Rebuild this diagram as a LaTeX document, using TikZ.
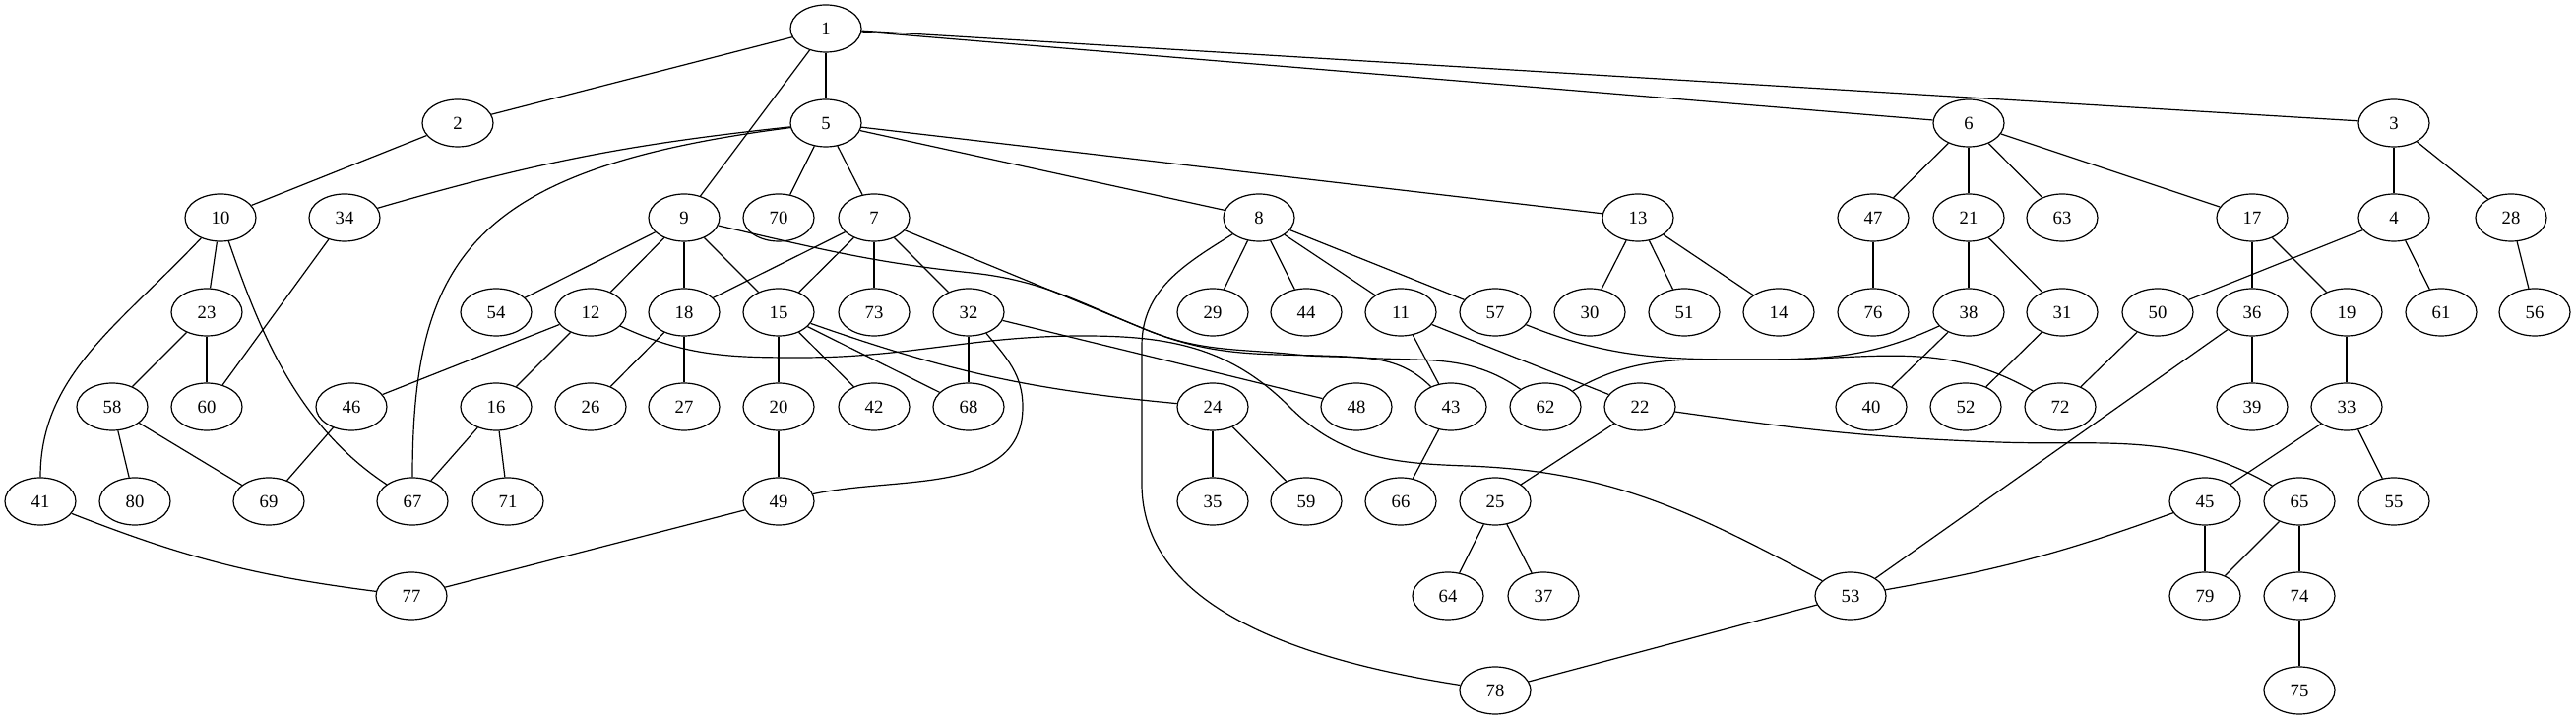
\documentclass[tikz,border=0pt]{standalone}
\usepackage{fontspec}
\setmainfont{Liberation Serif}
\usetikzlibrary{shapes.geometric}
\begin{document}
\begin{tikzpicture}[x=0.75pt,y=0.75pt,line width=0.9pt,
  nd/.style={draw,ellipse,minimum width=54pt,minimum height=36pt,inner sep=0pt,font=\fontsize{14}{16}\selectfont},
  ed/.style={draw}]
\useasboundingbox (0,0) rectangle (2617,731);
% rank 0
\node[nd] (n1) at (839,702) {1};
% rank 1
\foreach \n/\x in {2/465,5/839,6/2000,3/2432}
  \node[nd] (n\n) at (\x,606) {\n};
% rank 2
\foreach \n/\x in {10/224,34/350,9/695,70/791,7/888,8/1279,13/1664,47/1903,21/2000,63/2095,17/2288,4/2432,28/2551}
  \node[nd] (n\n) at (\x,510) {\n};
% rank 3
\foreach \n/\x in {23/210,54/504,12/600,18/695,15/791,73/888,32/984,29/1232,44/1327,11/1423,57/1519,30/1615,51/1711,14/1807,76/1903,38/2000,31/2095,50/2192,36/2288,19/2384,61/2480,56/2575}
  \node[nd] (n\n) at (\x,414) {\n};
% rank 4
\foreach \n/\x in {58/114,60/210,46/357,16/504,26/600,27/695,20/791,42/888,68/984,24/1232,48/1378,43/1474,62/1570,22/1666,40/1901,52/1997,72/2093,39/2288,33/2384}
  \node[nd] (n\n) at (\x,318) {\n};
% rank 5
\foreach \n/\x in {41/41,80/137,69/273,67/419,71/516,49/791,35/1232,59/1327,66/1423,25/1519,45/2240,65/2336,55/2432}
  \node[nd] (n\n) at (\x,222) {\n};
% rank 6
\foreach \n/\x in {77/418,64/1471,37/1568,53/1880,79/2240,74/2336}
  \node[nd] (n\n) at (\x,126) {\n};
% rank 7
\foreach \n/\x in {78/1519,75/2336}
  \node[nd] (n\n) at (\x,30) {\n};

% straight edges
\foreach \a/\b in {1/2,1/5,1/9,1/6,1/3,2/10,5/70,5/7,5/8,5/13,6/47,6/21,6/63,6/17,3/4,3/28,
  10/23,34/60,9/54,9/12,9/18,9/15,7/18,7/15,7/73,7/32,8/29,8/44,8/11,8/57,13/30,13/51,13/14,
  47/76,21/38,21/31,17/36,17/19,4/50,4/61,28/56,23/58,23/60,12/46,12/16,18/26,18/27,
  15/20,15/42,15/68,32/68,32/48,11/43,11/22,38/40,31/52,50/72,36/39,36/53,19/33,58/80,58/69,
  46/69,16/67,16/71,20/49,24/35,24/59,43/66,22/25,33/45,33/55,49/77,25/64,25/37,45/79,
  65/79,65/74,53/78,74/75}
  \draw[ed] (n\a) -- (n\b);

% curved edges
\draw[ed] (n5) to[bend right=5] (n34);
\draw[ed] (n5) .. controls (480,560) and (419,470) .. (n67);
\draw[ed] (n10) .. controls (120,400) and (41,350) .. (n41);
\draw[ed] (n10) .. controls (262,400) and (300,300) .. (n67);
\draw[ed] (n9) to[out=-13,in=174] (987,454) to[out=-6,in=158] (1165,396) to[out=-22,in=176] (1383,368) to[out=-4,in=145] (n62);
\draw[ed] (n7) -- (1165,396) to[out=-22,in=174] (1317,371) to[out=-6,in=135] (n43);
\draw[ed] (n12) to[out=-25,in=180] (813,368) to[out=0,in=180] (1100,390) to[out=0,in=135] (1310,318) to[out=-45,in=178] (1490,258) to[out=-2,in=152] (n53);
\draw[ed] (n8) to[out=212,in=90] (1160,380) -- (1160,240) .. controls (1160,140) and (1260,70) .. (n78);
\draw[ed] (n57) to[out=-22,in=180] (1800,366) to[out=0,in=150] (n72);
\draw[ed] (n38) to[out=205,in=0] (1780,366) to[out=180,in=30] (n62);
\draw[ed] (n22) to[out=-8,in=178] (2030,282) to[out=-2,in=150] (n65);
\draw[ed] (n32) to[out=-50,in=90] (1039,318) to[out=-90,in=12] (n49);
\draw[ed] (n15) to[bend right=7] (n24);
\draw[ed] (n45) to[bend left=5] (n53);
\draw[ed] (n41) to[bend right=7] (n77);
\end{tikzpicture}
\end{document}
